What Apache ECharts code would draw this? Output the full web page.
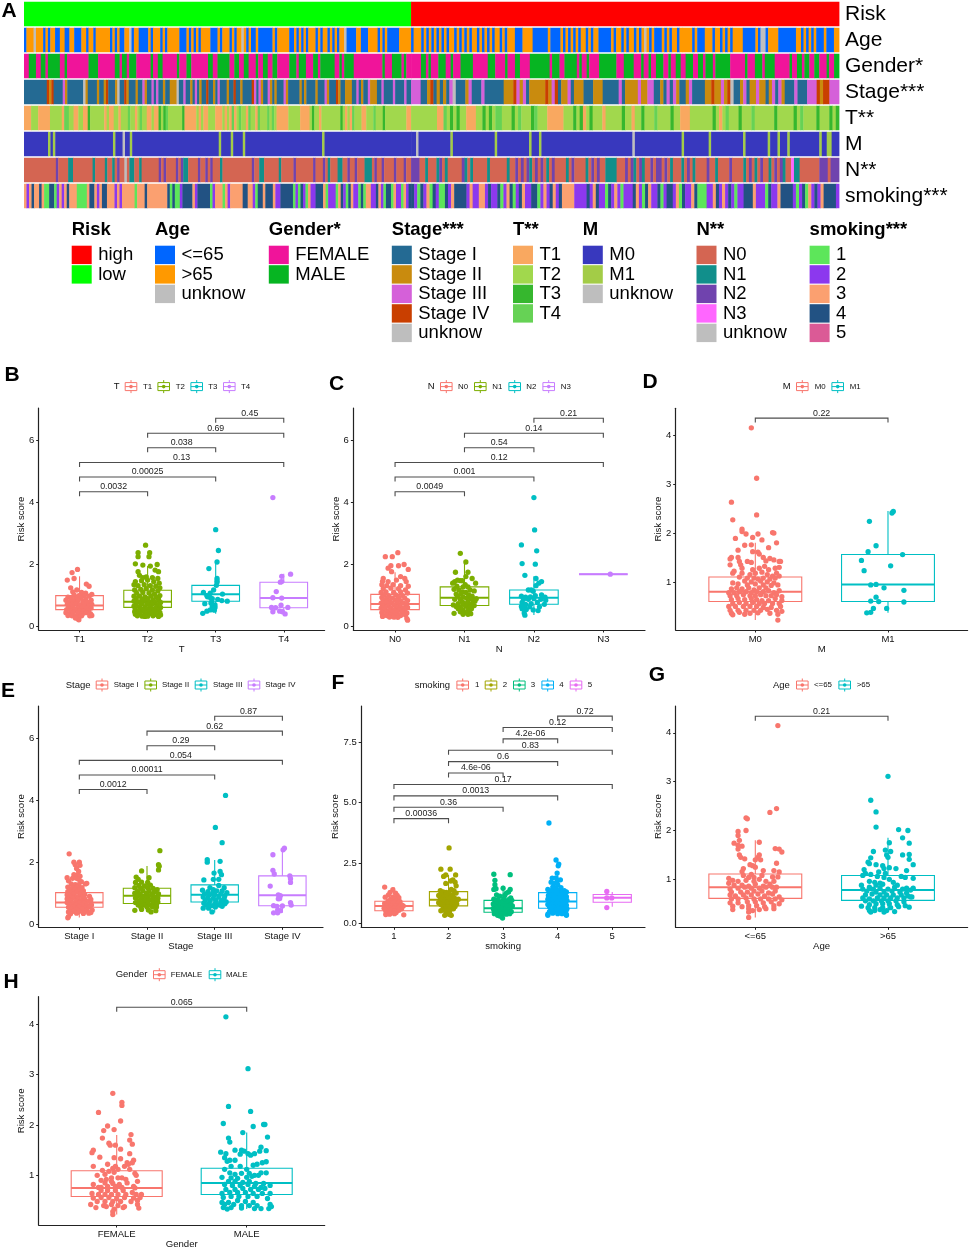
<!DOCTYPE html>
<html><head><meta charset="utf-8">
<script src="https://cdn.jsdelivr.net/npm/echarts@6/dist/echarts.min.js"></script>
<style>html,body{margin:0;padding:0;background:#fff}#c{width:969px;height:1250px}</style>
</head><body><div id="c"></div>
<script>
// ---------- heatmap annotation rows: [low-risk part, high-risk part], run lengths per category letter (letters follow legend order, u = unknow)
const rowNames=['Risk','Age','Gender*','Stage***','T**','M','N**','smoking***'];
const rowRisk=['b161','a178'];
const rowAge=['a1b3u1b3a1b1a1b2a2b2a2b2a3b2a1b2a1b6a1b1a1b1a2b2u1a1b2a4b1a1b3a1b1a1b5a3b1a1b1a1b1a1b4a3b1a1b3a1b1a1b2u1b1a1b1a2b1a6b1a1b5a2b1a1b1a1b1a1b3a1b1a1b2a1b1a1b1a1b2u1a4b2a3b4a1b1a1b1a5b5',
 'a1b3a1b1a1b1a1b1a1b1a1b1a1b2a1b1a1b1a1b1a1b2a1b1a1b1a1b1a1b2a1b1a1b3a3b4a6b1a4b1a1b1a1b1a1b1a1b2a1b1a1b2a5b1a1b2a1b1a1b2a1b1a1b1u1b1a1b1a1a2b1a1b1a1b2a1b1b4a1b1a3b3a1b2a1b1a1b1a1b4a5b1a1u2a1b4a7b2a1b1a1b1a1b1a3b1a3b2'];
const rowGender=['a2b3a2b2a1b5a2b1a9b4a7b2a1b2a1b3a6b1a2b2a6b1a3b2a7b2a2b5a2b2a2b2a3b1a2b2a2b2a5b3a1b3a3b2a1b6a2b1a1b4a12b1a3b4a1b1a2',
 'a4b2a1b1a3b3a2b1a3b5a6b3a4b1a3b2a4b8a1b3a2b5a1b1a2b1a4b7a3b4a3b1a2b1a2b3a2b1a2b2a2b3a2b2a1b3a1b6a6b1a3b3a1b4a6b1a2b2a1b2a2b2a3b1a2b2'];
const rowStage=['a10d1b1d1a4c1b1a7u1b1a4b1a2b1d1a3b1u1a2d1b1a3b1a2c1b1a2c1a1c1a2b1a2b3u1a2c1a2b1a1c1a1b1a2d1a2b1a1c1a3b1a2d1a2b1a4d1c1a1c1b1a2c1b1a1b1a3c1b1a5b1a1b1a4b1a3c1b1a3d1b1a2b3a2c1a1b1a2c1b3a2c1a4c1a4c1a2',
 'c3a2b1d1a1b1a1b1a1c1u1a3b1c1a3c1a6b3d1c1b1c1a1b5d1b1c1d1a1b2c1a1b3a3b3a5c1a1b4c1b2c2a2b1a1c1a1c1b1a2b1c1a4b2d1b2c1b1d1u1a2b1c1a1b2c1b2a1b1c1a1c1b1a3c1a3c3d1b1d2c3'];
const rowT=['a3b3a5b5a1d2b2a2b2a2c1b6a1b1a2b2a1b3d1b2a1b1d1b2a2b1a2c1b1c1d1b6c1a5b1a1b1a2b3a3b1a1b1a1d1a1b1d1b2a1d1b2a1d1b3d1b1d1b1a5b5a4b1c1b2a1b8c1b1a1b1a1d1b3a2b3d1b3c1b9a2',
 'b8a2d1b1c1b1c1b2a3b2c1b1c1b1d2b3c1b1d1b3c1d1b3a5b3c1b1c1a1b1c1b3a1b5c1b2a1b2c1b3d1b4c1b2a3b7c1b1a1b1d1b3c1b3d1b6c1b5c1b1d1b4c1b3c1b1c1'];
const rowM=['a10b1a1b1a24b1a3u1a2b1a36b1a4b1a4b1a32b1a36',
 'a2u1a13b1a17b1a13b1a3b1a37u1a19b1a10b1a13b1a9b1a3b1a3b1a12b1a2b2a3'];
const rowN=['a13c1a4b2a8b1a4b1a2b1a1c1a2u1a1b2a2b1a7c1a1c1a4c1a1c1b2a4c1a2c1a1c1a3b1a12c1a2b2a6b1a5c1a7c1a3c1a1b1a3b2a2c1a2c1a3b3a1c1a2c1a4c1a3c1a2',
 'c3a2b1a3b1c1a1b1a5c1b1a1b1a5b1a6b1a2c1a1c1a1c1b1a1c1a1c1a1b1a1c1a4b1a1c1a4b1a1c1a1c1a2b4a3c1a1c1b1a1c1b1a2c1a1c2a1c1a1b1a3b1a1c1a1b1a4c1a2b1a4c1a4b1a1c1a1b1a1c1a2b1a1c1a1c1b1a2d1b2a7c3a1c3'];
const rowSmoking=['c1b1c1d1c2d1c1a2d2a1b1c1b1c1d1c3a4c1d2c1b1c1d2c3b1c1b1c5a1c3d1c8d1a1d1a2b1d4c1b1d5a1b1c3a1c1b1c5d2c2b1a1d2c1d3c1b2d5a1b1a1d1b1a1c1b2d3c1a1b3a1c1d1b1a1d1c1b2a1d1a1c2b2d1c1b1a1d2a1c1b2a1c1b1d1',
 'd1b1a1d1b1c1a1d1b1a2d1b1c1d4b1c1b2c2b1d1b2d1a1b1c1d1a1b1d1c1b2d2a1b1c1b1d1c1b1d1c4b4d1b1c1d1b2a1d1b1c1b1a1b3d1c1b1a1d1c1b2d1a1b1d2b1c1a1d1b2c1d1a3b2c1d1b1c1b1d1b1a1b2d3c1b3a1d1b2c1d4b1a1b1d1a1c1b1d1b1c1d4b1'];
// legends of the annotation
const legTitles=['Risk','Age','Gender*','Stage***','T**','M','N**','smoking***'];
const legLabels=[['high','low'],['<=65','>65','unknow'],['FEMALE','MALE'],['Stage I','Stage II','Stage III','Stage IV','unknow'],['T1','T2','T3','T4'],['M0','M1','unknow'],['N0','N1','N2','N3','unknow'],['1','2','3','4','5']];
const legColors=[['#FF0000','#00FF00'],['#0066FF','#FF9900','#BEBEBE'],['#F0149A','#06B522'],['#246A93','#C98B0E','#D560D9','#C93F00','#BEBEBE'],['#F9A860','#A1D84D','#36B72E','#66D255'],['#3838BE','#A3CC47','#BEBEBE'],['#D46552','#118F8B','#7043AE','#FF66FF','#BEBEBE'],['#5DE65A','#8C38EE','#FBA070','#225283','#DB5A96']];
const legX=[71.7,155,268.8,391.8,513,582.8,696.5,809.6];
// ---------- categories
const catT=['T1','T2','T3','T4'],catN=['N0','N1','N2','N3'],catM=['M0','M1'],catStage=['Stage I','Stage II','Stage III','Stage IV'],catSmoke=['1','2','3','4','5'],catAge=['<=65','>65'],catGender=['FEMALE','MALE'];
const hue4=['#F8766D','#7CAE00','#00BFC4','#C77CFF'],hue2=['#F8766D','#00BFC4'],hue5=['#F8766D','#A3A500','#00BF7D','#00B0F6','#E76BF3'];
// ---------- box stats: whisker low, q1, median, q3, whisker high
const boxT=[[.25,.55,.68,1.0,1.62],[.33,.62,.8,1.17,1.95],[.42,.82,1.04,1.33,2.07],[.4,.61,.92,1.43,1.7]];
const boxN=[[.22,.55,.73,1.04,1.75],[.4,.68,.93,1.28,2.07],[.38,.72,.93,1.18,1.62],[1.69,1.69,1.69,1.69,1.69]];
const boxM=[[.22,.6,.8,1.1,1.8],[.37,.6,.95,1.56,2.45]];
const boxStage=[[.22,.55,.7,1.02,1.65],[.4,.67,.92,1.16,1.88],[.38,.72,.95,1.27,2.07],[.37,.6,.94,1.56,2.45]];
const boxSmoke=[[.35,.52,.72,.91,1.5],[.33,.72,.97,1.31,2.0],[.2,.46,.62,.95,1.55],[.33,.62,.9,1.27,2.05],[.68,.87,1.06,1.19,1.3]];
const boxAge=[[.22,.61,.84,1.11,1.8],[.33,.57,.78,1.08,1.85]];
const boxGender=[[.22,.58,.75,1.09,1.8],[.33,.62,.85,1.14,1.85]];
// ---------- comparison brackets: from, to, height, label
const brT=[[1,2,4.34,'0.0032'],[1,3,4.81,'0.00025'],[1,4,5.28,'0.13'],[2,3,5.75,'0.038'],[2,4,6.22,'0.69'],[3,4,6.7,'0.45']];
const brN=[[1,2,4.34,'0.0049'],[1,3,4.81,'0.001'],[1,4,5.28,'0.12'],[2,3,5.75,'0.54'],[2,4,6.22,'0.14'],[3,4,6.7,'0.21']];
const brM=[[1,2,4.35,'0.22']];
const brStage=[[1,2,4.34,'0.0012'],[1,3,4.81,'0.00011'],[1,4,5.28,'0.054'],[2,3,5.75,'0.29'],[2,4,6.22,'0.62'],[3,4,6.7,'0.87']];
const brSmoke=[[1,2,4.33,'0.00036'],[1,3,4.8,'0.36'],[1,4,5.27,'0.0013'],[1,5,5.74,'0.17'],[2,3,6.22,'4.6e-06'],[2,4,6.69,'0.6'],[2,5,7.16,'0.83'],[3,4,7.63,'4.2e-06'],[3,5,8.1,'0.12'],[4,5,8.57,'0.72']];
const brAge=[[1,2,4.34,'0.21']];
const brGender=[[1,2,4.34,'0.065']];
// ---------- jittered points: flat pairs of (offset in % of a band, score x100)
const ptT1=[-3,184,-11,174,-18,150,-8,155,10,137,14,130,-13,125,-4,118,-10,112,3,110,9,108,18,104,-8,102,-1,100,7,100,14,98,-17,95,-12,92,-5,90,2,92,9,88,17,85,-20,85,-15,80,-9,82,-2,84,5,80,12,78,18,72,-18,72,-11,72,-5,74,1,70,7,72,14,68,-16,62,-10,64,-3,60,4,62,10,60,17,60,-19,55,-13,52,-7,55,0,52,6,50,13,52,-20,45,-14,42,-9,46,-2,44,4,40,10,45,16,42,-17,36,-11,35,-5,33,-1,30,15,35,18,36,-2,25,-1,22,-6,28,3,35];
const ptT2=[-3,262,-14,238,-14,225,3,238,2,225,-18,202,14,200,-7,198,4,195,11,182,16,177,-14,177,-12,165,-2,160,-7,158,7,158,15,155,-18,145,-9,148,0,150,9,145,17,140,-20,135,-14,132,-5,135,4,132,12,130,18,125,-19,118,-10,120,-2,122,7,118,15,115,-16,108,-7,110,2,108,10,105,18,100,-20,98,-12,98,-4,96,5,98,13,95,-17,90,-8,88,0,90,8,86,16,88,-20,82,-13,80,-5,82,3,80,11,78,19,78,-17,72,-9,74,-1,72,6,72,14,70,-20,66,-12,64,-4,64,4,62,12,62,19,62,-18,56,-10,56,-2,56,6,56,15,54,-19,48,-13,48,-6,50,2,48,10,48,18,46,-18,40,-11,42,-3,40,4,42,12,40,19,38,-15,35,-8,34,0,34,8,35,16,33,-4,33];
const ptT3=[0,312,4,245,2,208,-10,187,2,155,2,148,2,143,1,133,-18,110,-3,118,-8,108,10,105,-13,100,-12,96,-8,94,-5,90,3,88,9,84,17,82,-6,80,-16,74,-7,76,-5,66,-1,70,-1,62,-2,53,-13,50,-8,54,-19,43];
const ptT4=[-16,415,-3,162,10,169,-5,143,-3,145,-11,113,-16,93,-3,92,-18,62,-12,61,-4,69,6,62,-16,48,-6,50,2,41,-2,48];
const ptN0=[4,238,-14,225,-4,225,5,196,13,200,-6,196,-10,188,19,184,-5,177,-17,155,8,161,14,155,-18,146,-10,145,2,150,16,145,-19,135,-12,132,-3,135,8,132,19,130,-17,122,-6,124,5,122,15,118,-20,110,-13,112,-2,110,8,112,18,108,-16,102,-9,100,1,102,11,100,-19,94,-12,92,-4,92,5,94,14,92,-17,85,-8,84,0,86,8,84,18,84,-20,76,-13,78,-5,76,3,78,12,76,-18,68,-9,68,-1,70,7,68,16,70,-20,60,-14,62,-6,60,2,62,11,60,18,62,-17,54,-9,52,-2,54,6,54,14,52,-19,46,-12,46,-4,46,3,46,10,46,17,44,-18,38,-12,36,-6,38,1,38,8,36,15,38,-18,33,-8,31,-2,31,4,30,17,26,18,21];
const ptN1=[-6,236,2,208,-13,175,5,175,2,161,11,155,-10,150,-6,148,-14,145,-3,148,-17,140,16,140,1,135,-11,130,-2,128,5,128,-15,120,-8,118,8,118,14,115,-3,112,2,110,-12,105,-5,105,6,102,11,98,-10,98,-2,95,3,92,9,90,17,90,-14,88,-6,88,12,86,-3,80,5,80,15,82,-16,70,-9,74,-2,72,4,76,10,72,-12,65,-6,62,2,66,8,62,14,68,-9,58,-3,55,5,56,10,58,-6,48,0,46,7,48,-15,43,-2,40,5,40,9,42];
const ptN2=[0,415,1,311,-18,263,4,244,-17,203,2,201,-13,165,3,155,11,145,7,140,3,132,-4,118,-8,118,-1,114,11,102,-18,98,-12,95,-5,96,2,100,16,95,-15,88,-8,88,0,90,10,88,17,85,-17,78,-12,72,-4,74,5,78,15,72,-18,65,-13,62,-6,64,8,64,-17,58,-11,55,-1,54,6,52,-14,44,-13,37];
const ptN3=[10,169];
const ptM0=[-3,415,1,312,-18,263,1,237,-17,227,-10,208,-10,203,-7,198,-2,191,2,198,13,201,14,200,-15,189,5,186,16,180,-8,175,-3,176,10,170,-2,162,2,161,-13,165,3,157,-18,150,-13,150,-19,147,-12,142,6,150,11,148,14,145,8,143,18,142,19,142,-6,142,-3,140,-19,135,-11,135,-10,128,-16,122,-2,125,3,128,7,132,10,125,15,128,18,130,-17,118,-10,118,-4,115,0,118,5,120,9,115,13,112,16,118,18,112,-12,110,-6,108,-1,108,2,106,6,108,11,106,15,108,-8,102,-3,100,4,102,9,100,14,98,-17,98,-13,96,-6,94,0,96,6,94,12,93,17,94,-18,86,-14,88,-10,86,-5,88,-1,84,3,88,8,88,-20,78,-16,78,-12,80,-7,80,-3,78,1,80,6,80,10,82,14,78,18,82,-19,72,-14,72,-9,74,-4,72,0,72,4,74,8,72,12,72,16,74,20,70,-18,64,-13,66,-8,64,-3,66,1,64,5,62,10,62,15,66,20,62,-17,56,-12,58,-7,56,-2,58,3,56,7,56,13,56,18,56,-20,50,-15,50,-9,50,-4,50,1,50,6,48,12,48,19,50,-19,42,-13,42,-7,42,-1,42,4,42,9,44,16,42,20,40,-18,36,-12,38,-4,36,2,37,11,36,17,34,-17,33,-8,34,17,22];
const ptM1=[4,244,3,241,-14,224,-9,174,-15,162,11,156,-20,144,2,133,-18,123,-13,94,-9,95,-3,88,12,83,-9,69,-13,61,-7,60,12,59,-1,46,-11,46,-13,38,-16,37];
const ptStage1=[-15,227,-8,200,0,200,-6,192,1,190,-4,180,-1,170,-8,160,-3,158,1,155,-18,150,-10,148,-4,148,-1,145,-16,140,3,137,9,130,11,132,-12,130,-6,128,-1,128,-17,120,-10,118,-3,120,4,118,-14,112,-7,110,0,112,6,108,-17,105,-11,102,-3,104,3,102,-18,95,-8,96,1,94,8,96,-14,90,-4,88,5,88,15,90,-18,82,-10,84,-2,82,8,82,17,80,-13,76,-5,74,3,76,12,74,-18,70,-9,68,0,70,7,68,17,70,-14,62,-5,62,3,62,11,60,18,62,-16,55,-8,56,0,56,7,54,15,56,-12,48,-4,48,4,50,11,46,19,46,-16,40,-8,42,0,42,8,42,17,38,-13,34,-4,36,6,35,14,36,-16,25,-17,21];
const ptStage2=[19,237,17,192,18,187,17,175,-8,172,-16,152,-13,145,3,150,-17,135,-8,136,1,135,-12,125,-4,124,5,126,-18,118,-9,116,1,118,9,116,15,112,-14,106,-6,108,3,108,11,105,-18,100,-10,98,-1,100,7,98,17,98,-14,92,-6,90,2,92,10,90,-17,85,-8,84,0,84,8,82,16,84,-12,76,-4,76,4,78,13,76,-17,70,-8,68,1,70,9,68,16,72,-13,62,-4,62,5,62,14,64,-9,55,0,56,8,56,14,56,-18,45,-8,48,2,46,6,40,13,44];
const ptStage3=[16,415,1,312,11,263,-11,208,-11,200,8,203,-16,143,-1,165,8,170,10,160,-2,145,6,145,-18,110,-7,118,-2,112,6,125,14,118,-10,105,-3,100,3,108,11,108,18,102,-15,98,-8,95,0,96,9,98,15,92,-17,88,-10,85,-2,84,6,88,14,84,-14,78,-7,76,2,78,10,76,-16,68,-9,66,1,68,9,70,17,72,-13,62,-4,60,7,62,15,66,-17,52,-9,52,1,56,11,58,-4,40];
const ptStage4=[3,245,1,240,-14,224,-14,174,-12,162,11,156,12,147,12,135,-18,123,-6,95,-3,92,-6,82,-4,83,12,70,-13,60,-8,58,0,59,13,62,-7,46,-3,44,-13,37,-7,37];
const ptS1=[-17,150,-2,139,-7,128,3,125,-10,118,6,115,-16,108,-2,108,9,106,-6,100,2,100,-11,92,-5,92,4,92,11,90,-17,82,-9,84,-1,84,7,82,14,76,-13,72,-5,72,3,72,11,70,17,72,-18,62,-9,64,-1,62,7,62,14,60,-15,52,-6,54,2,52,9,54,-14,43,-7,44,0,44,4,45,-15,36,-8,38,1,40,18,35];
const ptS2=[1,312,-14,224,3,224,-5,200,-9,194,13,200,8,180,-5,165,4,175,12,170,14,155,-15,135,-10,130,-4,128,5,140,10,135,-18,115,-12,120,-5,118,1,125,8,118,14,125,-15,105,-8,110,-2,112,5,108,11,104,18,100,-12,98,-5,95,2,100,8,92,15,95,-18,85,-10,88,-3,86,4,88,12,84,-14,78,-7,76,0,80,7,78,15,80,-10,68,-2,68,5,72,12,70,-5,60,3,62,9,60,-14,52,-6,52,2,50,-3,42,1,38,-7,33,3,36,5,33];
const ptS3=[-17,203,13,201,-15,178,-15,160,-13,143,-17,140,0,145,10,130,13,140,6,125,-12,118,-6,112,3,115,14,105,-17,100,-10,98,1,100,10,98,16,95,-14,90,-6,90,4,88,11,88,-18,80,-11,80,-3,82,6,80,14,78,-15,72,-8,70,0,72,8,72,17,72,-18,62,-11,62,-3,62,5,62,13,64,-17,55,-10,54,-2,54,5,54,11,56,-14,48,-7,46,1,46,8,46,15,48,-16,40,-9,38,-2,40,6,38,12,40,-6,30,-1,22,-10,33];
const ptS4=[-16,415,-3,262,2,245,1,238,-1,208,-10,187,-3,188,-1,175,5,180,-12,170,-7,165,0,160,-9,150,-3,145,6,148,-18,140,-12,135,-5,138,2,135,12,135,16,130,-15,125,-8,128,-1,125,7,128,14,125,-17,115,-11,115,-4,118,3,115,10,118,16,110,-14,105,-7,108,0,105,7,108,13,100,-18,100,-11,98,-3,95,4,98,10,95,17,95,-15,88,-8,88,-1,85,6,88,14,88,-18,78,-11,78,-4,76,3,78,10,78,16,75,-15,68,-8,68,0,68,7,66,14,68,-12,58,-4,58,3,58,11,58,17,60,-15,48,-8,48,-1,50,7,50,15,50,-18,38,-9,42,0,40,8,40,16,36,-18,33,16,33];
const ptS5=[-10,132,-10,65,-10,105,-1,105];
const ptAge1=[17,415,16,245,11,237,-7,226,-6,224,-7,200,-13,198,-13,190,-12,180,3,176,-16,174,-13,170,-10,168,15,163,18,162,20,156,-13,162,-12,150,-11,145,-8,142,-4,130,3,150,2,145,0,140,4,140,16,133,-2,128,0,125,-9,122,-10,116,-3,110,6,118,14,118,18,115,-9,108,-5,104,-1,104,5,108,13,105,17,105,-20,102,-17,98,-13,96,-7,98,-1,96,3,100,8,96,14,96,-20,92,-16,88,-10,88,-5,86,0,90,6,86,11,90,16,84,-19,80,-13,82,-8,84,-3,82,3,82,8,84,13,84,-18,74,-11,74,-6,74,-1,76,5,76,10,72,15,76,-19,68,-15,66,-9,68,-3,68,2,70,7,66,13,70,18,64,-18,60,-13,60,-7,62,-1,60,4,60,10,60,15,60,20,58,-19,52,-13,52,-6,54,0,54,6,52,12,54,18,50,-17,45,-5,46,1,46,7,44,14,46,-17,38,-10,44,-5,40,3,38,8,40,14,40,-5,33,-2,36,-5,22];
const ptAge2=[0,311,-13,262,-9,238,-9,207,8,202,15,200,11,185,16,174,1,175,-2,160,-11,157,2,157,11,150,16,151,-13,144,-1,150,0,145,16,141,-15,135,-14,132,-9,130,-4,128,19,130,-3,122,1,124,6,122,-18,120,-17,112,-7,115,-2,112,-13,110,14,118,-19,108,-8,106,-3,104,10,106,13,104,1,100,19,102,-14,96,-10,94,-6,92,4,94,-20,88,-14,84,-9,88,-4,90,7,88,14,82,19,82,-19,80,-11,80,-6,82,0,80,5,84,11,80,17,78,-16,76,-9,74,-3,74,3,76,9,74,14,72,-17,68,-12,70,-6,68,-1,68,4,68,10,68,15,66,18,64,-19,62,-14,60,-8,62,-3,62,2,62,7,62,12,62,17,64,-17,56,-11,56,-5,56,0,56,6,56,12,54,-20,45,-14,48,-9,50,-4,50,1,50,7,48,13,46,-15,42,-10,42,-4,42,2,42,8,44,16,43,-14,36,-10,36,-6,38,-1,36,5,34,-13,33,-3,33];
const ptG1=[-3,263,4,245,4,239,-14,225,3,208,-7,198,-10,189,-2,191,11,181,-11,174,10,170,-6,164,12,162,-5,160,-1,160,3,152,-18,150,-19,145,10,143,-13,136,-2,135,13,130,3,133,8,125,12,125,-18,118,-7,122,-1,118,6,118,9,122,-3,114,1,112,10,112,-11,110,-6,108,-2,106,14,104,-15,100,-9,102,-4,95,1,95,4,95,15,100,-12,90,-8,92,-4,88,7,92,16,88,-18,82,-14,76,-9,85,-3,84,2,82,8,85,13,78,-12,76,-7,78,-1,78,4,76,14,75,-12,70,-7,70,-1,70,5,70,12,66,-19,64,-14,62,-9,62,-4,62,1,62,7,62,15,62,19,62,-18,55,-12,56,-6,56,0,54,6,56,13,55,18,56,-15,48,-9,48,-3,48,3,48,11,48,16,50,-20,42,-10,40,-4,42,1,40,6,38,16,42,-16,36,-8,38,-2,33,5,36,17,35,-3,28,-3,22];
const ptG2=[-16,415,1,312,-14,237,3,227,-18,203,5,197,13,201,14,201,-3,185,16,176,-14,174,-13,166,11,156,-20,146,-16,143,-17,135,-9,150,-4,150,-2,148,10,148,15,149,1,143,6,143,-13,130,-5,142,3,140,12,125,15,127,-15,128,-9,130,5,120,8,122,-12,118,-5,118,0,112,-17,112,-13,105,-9,102,-4,104,2,104,6,100,11,105,15,105,-19,96,-12,95,-7,94,0,96,4,98,9,100,-14,88,-9,88,-3,86,2,88,7,84,13,84,-17,82,-11,80,-5,80,1,82,6,78,11,76,18,80,-16,72,-9,72,-3,74,3,72,9,72,14,74,-19,64,-13,66,-7,66,-1,66,5,64,12,64,18,64,-18,56,-12,58,-6,58,1,58,8,58,16,54,-19,46,-14,46,-7,50,-1,48,5,46,-17,42,-10,42,-4,40,2,40,8,40,18,42,-18,36,-12,36,-4,35,6,34,11,34,17,34,19,38,-15,33];

// ---------- panel definitions
const panels=[
 {x0:38.7,x1:324.6,yTop:408,yBot:630,yMin:-.106,yMax:7.03,ticks:[0,2,4,6],cats:catT,hue:hue4,box:boxT,br:brT,pts:[ptT1,ptT2,ptT3,ptT4],xName:'T',nameGapY:12,
  legend:{title:'T',tx:113.7,cy:386.6,ic:[131,163.7,196.7,229.3],lx:[143,175.7,208.3,241]}},
 {x0:353.4,x1:645,yTop:408,yBot:630,yMin:-.106,yMax:7.03,ticks:[0,2,4,6],cats:catN,hue:hue4,box:boxN,br:brN,pts:[ptN0,ptN1,ptN2,ptN3],xName:'N',nameGapY:12.5,
  legend:{title:'N',tx:427.7,cy:386.6,ic:[446.3,480.3,514.7,548.7],lx:[458,492.3,526.3,560.7]}},
 {x0:675.7,x1:967.6,yTop:408.3,yBot:630,yMin:.018,yMax:4.55,ticks:[1,2,3,4],cats:catM,hue:hue2,box:boxM,br:brM,pts:[ptM0,ptM1],xName:'M',nameGapY:12.4,
  legend:{title:'M',tx:782.7,cy:386.6,ic:[802.3,837.7],lx:[814.7,849.7]}},
 {x0:38.7,x1:323,yTop:706,yBot:927.3,yMin:-.096,yMax:7.03,ticks:[0,2,4,6],cats:catStage,hue:hue4,box:boxStage,br:brStage,pts:[ptStage1,ptStage2,ptStage3,ptStage4],xName:'Stage',nameGapY:12,
  legend:{title:'Stage',tx:65.7,cy:685,ic:[102,150.7,201,254],lx:[113.7,162,213,265.3]}},
 {x0:361.2,x1:645,yTop:706,yBot:927.3,yMin:-.165,yMax:8.99,ticks:[0,2.5,5,7.5],fmt:v=>v.toFixed(1),cats:catSmoke,hue:hue5,box:boxSmoke,br:brSmoke,pts:[ptS1,ptS2,ptS3,ptS4,ptS5],xName:'smoking',nameGapY:21,
  legend:{title:'smoking',tx:414.7,cy:685,ic:[462.7,491,519.3,547.7,576],lx:[475,502.7,530.7,559.3,587.7]}},
 {x0:675.7,x1:967.6,yTop:706,yBot:927.3,yMin:.018,yMax:4.55,ticks:[1,2,3,4],cats:catAge,hue:hue2,box:boxAge,br:brAge,pts:[ptAge1,ptAge2],xName:'Age',nameGapY:12.4,
  legend:{title:'Age',tx:773,cy:685,ic:[802.3,844.7],lx:[814,856.7]}},
 {x0:38.7,x1:324.7,yTop:996.7,yBot:1225,yMin:.013,yMax:4.55,ticks:[1,2,3,4],cats:catGender,hue:hue2,box:boxGender,br:brGender,pts:[ptG1,ptG2],xName:'Gender',nameGapY:12,
  legend:{title:'Gender',tx:115.7,cy:974.7,ic:[159.3,215],lx:[170.7,226]}}
];
const letters=[['A',9,11],['B',12,375.5],['C',336.5,384],['D',650,382],['E',8,691],['F',338,683],['G',657,675],['H',11,982]];
const FONT='"Liberation Sans",Arial,sans-serif';

function txt(text,x,y,size,opt){opt=opt||{};return {type:'text',silent:true,style:{text,x,y,fontSize:size,fontFamily:FONT,fontWeight:opt.weight||'normal',fill:opt.fill||'#000',textAlign:opt.align||'left',textVerticalAlign:'middle',align:opt.align||'left',verticalAlign:'middle'}};}

const grids=[],xAxes=[],yAxes=[],series=[],graphic=[];
// heat grid: low part spans 161 units, high part 178 units of the 339 wide scale
const HN=339,HLOW=161;
grids.push({left:24,top:1,width:815,height:208});
xAxes.push({type:'value',min:0,max:HN,show:false,gridIndex:0});
yAxes.push({type:'category',inverse:true,position:'right',gridIndex:0,data:rowNames,axisLine:{show:false},axisTick:{show:false},splitLine:{show:false},axisLabel:{interval:0,color:'#000',fontSize:21,fontFamily:FONT,margin:6}});
const heatCells=[];
[rowRisk,rowAge,rowGender,rowStage,rowT,rowM,rowN,rowSmoking].forEach((parts,r)=>{
  parts.forEach((s,side)=>{
    const runs=[...s.matchAll(/([a-z])(\d+)/g)].map(m=>[m[1],+m[2]]);
    const total=runs.reduce((a,b)=>a+b[1],0),base=side?HLOW:0,span=side?HN-HLOW:HLOW;let c=0;
    runs.forEach(([k,n])=>{const i=k==='u'?legColors[r].length-1:k.charCodeAt(0)-97;
      heatCells.push({value:[base+c/total*span,base+(c+n)/total*span,r],color:legColors[r][i]});c+=n;});
  });
});
series.push({type:'custom',xAxisIndex:0,yAxisIndex:0,silent:true,animation:false,clip:false,encode:{x:[0,1],y:2},data:heatCells.map(d=>d.value),
 renderItem(p,api){const a=api.coord([api.value(0),api.value(2)]),b=api.coord([api.value(1),api.value(2)]),h=api.size([0,1])[1];
  return {type:'rect',shape:{x:a[0],y:a[1]-h/2+.75,width:b[0]-a[0]+.4,height:h-1.5},style:{fill:heatCells[p.dataIndex].color}};}});
// annotation legend
legTitles.forEach((t,i)=>{
  graphic.push(txt(t,legX[i],230,18.5,{weight:'bold'}));
  legLabels[i].forEach((l,j)=>{
    graphic.push({type:'rect',silent:true,shape:{x:legX[i],y:245.7+19.5*j,width:20,height:18.4},style:{fill:legColors[i][j]}});
    graphic.push(txt(l,legX[i]+26.5,255+19.5*j,18.5));
  });
});
letters.forEach(l=>graphic.push(txt(l[0],l[1],l[2],21,{weight:'bold',align:'center'})));

panels.forEach((p,k)=>{
  const gi=k+1,n=p.cats.length;
  grids.push({left:p.x0,top:p.yTop,width:p.x1-p.x0,height:p.yBot-p.yTop});
  const xs=p.cats.map((_,i)=>i+1);
  xAxes.push({type:'value',gridIndex:gi,min:.4,max:n+.6,splitLine:{show:false},
    axisLine:{lineStyle:{color:'#222',width:1.2},onZero:false},axisTick:{customValues:xs,length:2.5,lineStyle:{color:'#222'}},
    axisLabel:{customValues:xs,formatter:v=>p.cats[Math.round(v)-1],fontSize:9.5,fontFamily:FONT,color:'#111',margin:4,hideOverlap:false},
    name:p.xName,nameLocation:'middle',nameGap:14,nameMoveOverlap:false,nameTextStyle:{fontSize:9.6,fontFamily:FONT,color:'#111'}});
  yAxes.push({type:'value',gridIndex:gi,min:p.yMin,max:p.yMax,splitLine:{show:false},
    axisLine:{show:true,lineStyle:{color:'#222',width:1.2},onZero:false},axisTick:{show:true,customValues:p.ticks,length:2.5,lineStyle:{color:'#222'}},
    axisLabel:{customValues:p.ticks,formatter:p.fmt||(v=>String(v)),fontSize:9.5,fontFamily:FONT,color:'#111',margin:4.5,hideOverlap:false},
    name:'Risk score',nameLocation:'middle',nameGap:p.nameGapY,nameRotate:90,nameMoveOverlap:false,nameTextStyle:{fontSize:9.6,fontFamily:FONT,color:'#111'}});
  // boxes
  series.push({type:'custom',xAxisIndex:gi,yAxisIndex:gi,silent:true,animation:false,clip:false,encode:{x:0,y:[1,2,3,4,5]},
    data:p.box.map((b,i)=>[i+1,...b]),
    renderItem(q,api){const x=api.value(0),c=p.hue[q.dataIndex],hw=.35;
      const L=api.coord([x-hw,1])[0],R=api.coord([x+hw,1])[0],X=api.coord([x,1])[0];
      const Y=i=>api.coord([x,api.value(i)])[1];
      const st=w=>({stroke:c,lineWidth:w,fill:'none'});
      return {type:'group',children:[
        {type:'line',shape:{x1:X,y1:Y(1),x2:X,y2:Y(2)},style:st(1.1)},
        {type:'line',shape:{x1:X,y1:Y(4),x2:X,y2:Y(5)},style:st(1.1)},
        {type:'rect',shape:{x:L,y:Y(4),width:R-L,height:Y(2)-Y(4)},style:st(1.1)},
        {type:'line',shape:{x1:L,y1:Y(3),x2:R,y2:Y(3)},style:st(2)}
      ]};}});
  // points
  p.pts.forEach((arr,i)=>{const d=[];for(let j=0;j<arr.length;j+=2)d.push([i+1+arr[j]/100,arr[j+1]/100]);
    series.push({type:'scatter',xAxisIndex:gi,yAxisIndex:gi,silent:true,animation:false,symbolSize:5.3,data:d,itemStyle:{color:p.hue[i],opacity:1}});});
  // brackets
  series.push({type:'custom',xAxisIndex:gi,yAxisIndex:gi,silent:true,animation:false,clip:false,encode:{x:[0,1],y:2},
    data:p.br.map(b=>[b[0],b[1],b[2]]),
    renderItem(q,api){const y=api.value(2);const a=api.coord([api.value(0),y]),b=api.coord([api.value(1),y]);
      return {type:'group',children:[
        {type:'polyline',shape:{points:[[a[0],a[1]+4.5],[a[0],a[1]],[b[0],b[1]],[b[0],b[1]+4.5]]},style:{stroke:'#4d4d4d',lineWidth:1.1,fill:'none'}},
        {type:'text',style:{text:p.br[q.dataIndex][3],x:(a[0]+b[0])/2,y:a[1]-5,fontSize:8.8,fontFamily:FONT,fill:'#222',textAlign:'center',textVerticalAlign:'middle',align:'center',verticalAlign:'middle'}}
      ]};}});
  // panel legend
  const g=p.legend;
  graphic.push(txt(g.title,g.tx,g.cy,9.5,{fill:'#111'}));
  g.ic.forEach((x,i)=>{const c=p.hue[i],s={stroke:c,lineWidth:1,fill:'none'};
    graphic.push({type:'line',silent:true,shape:{x1:x,y1:g.cy-6.5,x2:x,y2:g.cy+6.5},style:s});
    graphic.push({type:'rect',silent:true,shape:{x:x-5.8,y:g.cy-4,width:11.6,height:8},style:{stroke:c,lineWidth:1,fill:'#fff'}});
    graphic.push({type:'line',silent:true,shape:{x1:x-5.8,y1:g.cy,x2:x+5.8,y2:g.cy},style:s});
    graphic.push({type:'circle',silent:true,shape:{cx:x,cy:g.cy,r:1.8},style:{fill:c}});
    graphic.push(txt(p.cats[i],g.lx[i],g.cy,7.9,{fill:'#111'}));
  });
});
const chart=echarts.init(document.getElementById('c'),null,{renderer:'canvas'});
chart.setOption({animation:false,backgroundColor:'#fff',grid:grids,xAxis:xAxes,yAxis:yAxes,series,graphic:{elements:graphic}});
</script></body></html>
